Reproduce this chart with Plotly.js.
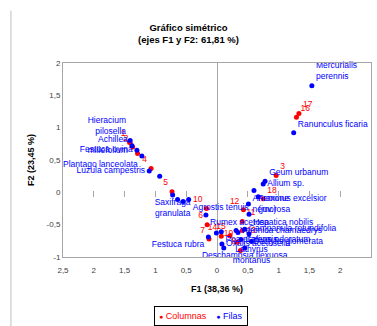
<!DOCTYPE html>
<html>
<head>
<meta charset="utf-8">
<script src="https://cdn.plot.ly/plotly-3.0.1.min.js"></script>
<style>html,body{margin:0;padding:0;background:#fff;}#chart{width:377px;height:326px;}</style>
</head>
<body>
<div id="chart"></div>
<script>
// Tick labels
const xTickVals = [-2.5, -2, -1.5, -1, -0.5, 0, 0.5, 1, 1.5, 2, 2.5];
const xTickText = ['2,5', '2', '1,5', '1', '0,5', '0', '0,5', '1', '1,5', '2', '2,5'];
const yTickVals = [-1, -0.5, 0, 0.5, 1, 1.5, 2];
const yTickText = ['-1', '-0,5', '0', '0,5', '1', '1,5', '2'];
const crossTickVals = [-2, -1.5, -1, -0.5, 0.5, 1, 1.5, 2];

// Series names
const seriesNames = ['Columnas', 'Filas'];

// Columnas (red)
const colLabels = ['1', '2', '9', '4', '5', '10', '6', '7', '14', '15', '19', '8', '12', '11', '13', '18', '3', '16', '17'];
const colF1 = [-1.42, -1.37, -1.29, -1.07, -0.73, -0.17, -0.16, -0.13, 0.07, 0.21, 0.33, 0.38, 0.43, 0.41, 0.41, 0.75, 0.96, 1.29, 1.33];
const colF2 = [0.77, 0.70, 0.60, 0.37, 0.01, -0.25, -0.50, -0.72, -0.68, -0.67, -0.77, -0.90, -0.27, -0.45, -0.59, -0.10, 0.26, 1.16, 1.22];

// Filas (blue)
const rowLabels = [
  'Mercurialis<br>perennis', 'Ranunculus ficaria', 'Hieracium<br>pilosella', 'Achillea<br>millefolium',
  'Festuca ovina', 'Plantago lanceolata', 'Luzula campestris', '', 'Saxifraga<br>granulata', '', '',
  'Agrostis tenuis', 'Rumex acetosa', 'Festuca rubra', '', 'Poa pratensis', 'Oxalis acetosella', '',
  'Veronica chamaedrys', '', 'Galium odoratum', 'Deschampsia flexuosa', 'Campanula rotundifolia',
  'Anemone<br>nemorosa', 'Hepatica nobilis', 'Fraxinus excelsior<br>(juv.)', '', 'Allium sp.',
  'Geum urbanum', 'Dactylis glomerata', 'Lathyrus<br>montanus'
];
const rowF1 = [1.54, 1.245, -1.41, -1.38, -1.30, -1.22, -1.10, -0.93, -0.72, -0.64, -0.55, -0.46, -0.18, -0.14, -0.01, 0.07, 0.08, 0.11, 0.31, 0.34, 0.39, 0.45, 0.45, 0.51, 0.52, 0.60, 0.67, 0.75, 0.78, 0.52, 0.56];
const rowF2 = [1.65, 0.92, 0.80, 0.72, 0.65, 0.56, 0.33, 0.25, -0.04, -0.11, -0.14, -0.11, -0.35, -0.69, -0.63, -0.61, -0.80, -0.86, -0.59, -0.62, -0.73, -0.86, -0.57, -0.18, -0.34, 0.03, -0.07, 0.13, 0.17, -0.64, -0.76];

// label placement (style)
const colTextPos = colLabels.map(l => ['16', '17', '11', '18', '3'].includes(l) ? 'top right' : (l === '13' ? 'middle right' : 'top left'));
const rowTextPos = ['top right', 'top right', 'top left', 'middle left', 'middle left', 'bottom left', 'middle left', 'middle left',
  'bottom center', 'middle left', 'middle left', 'bottom right', 'bottom right', 'bottom left', 'middle right', 'bottom right',
  'middle right', 'middle right', 'middle right', 'middle right', 'middle right', 'bottom center', 'middle right',
  'middle right', 'bottom right', 'bottom right', 'middle right', 'middle right', 'top right', 'bottom right', 'bottom center'];

const RED = '#ff0000', BLUE = '#0000ff';
const FONT = 'Liberation Sans, Arial, sans-serif';

const traces = [
  {
    type: 'scatter', mode: 'markers+text', name: seriesNames[0],
    x: colF1, y: colF2, text: colLabels, textposition: colTextPos,
    marker: {color: RED, size: 5}, textfont: {color: RED, size: 8.5, family: FONT},
    cliponaxis: false, hoverinfo: 'skip', showlegend: false
  },
  {
    type: 'scatter', mode: 'markers+text', name: seriesNames[1],
    x: rowF1, y: rowF2, text: rowLabels, textposition: rowTextPos,
    marker: {color: BLUE, size: 5}, textfont: {color: BLUE, size: 8.5, family: FONT},
    cliponaxis: false, hoverinfo: 'skip', showlegend: false
  },
  {
    // carrier for the tick marks drawn across the F2 = 0 level
    type: 'scatter', mode: 'markers', x: [null], y: [null], xaxis: 'x2', yaxis: 'y',
    showlegend: false, hoverinfo: 'skip', marker: {opacity: 0}
  }
];

const legendText =
  '<span style="color:' + RED + '"><span style="font-size:7px">●</span> ' + seriesNames[0] + '</span>' +
  '    <span style="color:' + BLUE + '"><span style="font-size:7px">●</span> ' + seriesNames[1] + '</span>';

const layout = {
  width: 377, height: 326,
  margin: {l: 63, r: 6, t: 63, b: 69, autoexpand: false},
  paper_bgcolor: '#fff', plot_bgcolor: '#fff',
  font: {family: FONT, size: 8, color: '#404040'},
  title: {
    text: '<b>Gráfico simétrico</b><br><b>(ejes F1 y F2: 61,81 %)</b>',
    x: 0.5, xanchor: 'center', y: 0.905, yanchor: 'middle',
    font: {family: FONT, size: 9.5, color: '#000'}
  },
  xaxis: {
    range: [-2.5, 2.5], tickmode: 'array', tickvals: xTickVals, ticktext: xTickText,
    showgrid: false, zeroline: true, zerolinecolor: '#a6a6a6', zerolinewidth: 1,
    showline: true, mirror: true, linecolor: '#a6a6a6', linewidth: 1, ticks: '',
    tickfont: {size: 8, color: '#404040'}, automargin: false, ticklabelstandoff: 5,
    title: {text: '<b>F1 (38,36 %)</b>', font: {size: 9, color: '#000'}, standoff: 12}
  },
  xaxis2: {
    overlaying: 'x', anchor: 'free', position: 0.3475, range: [-2.5, 2.5],
    tickmode: 'array', tickvals: crossTickVals, showticklabels: false, ticks: 'outside',
    ticklen: 6, tickcolor: '#a6a6a6', showgrid: false, zeroline: false, showline: false
  },
  yaxis: {
    range: [-1, 2], tickmode: 'array', tickvals: yTickVals, ticktext: yTickText,
    showgrid: false, zeroline: false,
    showline: true, mirror: true, linecolor: '#a6a6a6', linewidth: 1, ticks: '',
    tickfont: {size: 8, color: '#404040'}, automargin: false,
    title: {text: '<b>F2 (23,45 %)</b>', font: {size: 9, color: '#000'}, standoff: 10}
  },
  showlegend: false,
  annotations: [
    {xref: 'paper', yref: 'paper', x: 0.448, y: -0.305, xanchor: 'center', yanchor: 'middle',
     text: legendText, showarrow: false, font: {size: 9, family: FONT},
     bordercolor: '#000', borderwidth: 1, borderpad: 4, bgcolor: '#fff'}
  ],
  shapes: [
    {type: 'line', xref: 'paper', yref: 'paper', x0: -0.169, x1: -0.169, y0: 1.27, y1: -0.36,
     line: {color: '#bfbfbf', width: 1}}
  ]
};

Plotly.newPlot('chart', traces, layout, {displayModeBar: false, staticPlot: true});
</script>
</body>
</html>
